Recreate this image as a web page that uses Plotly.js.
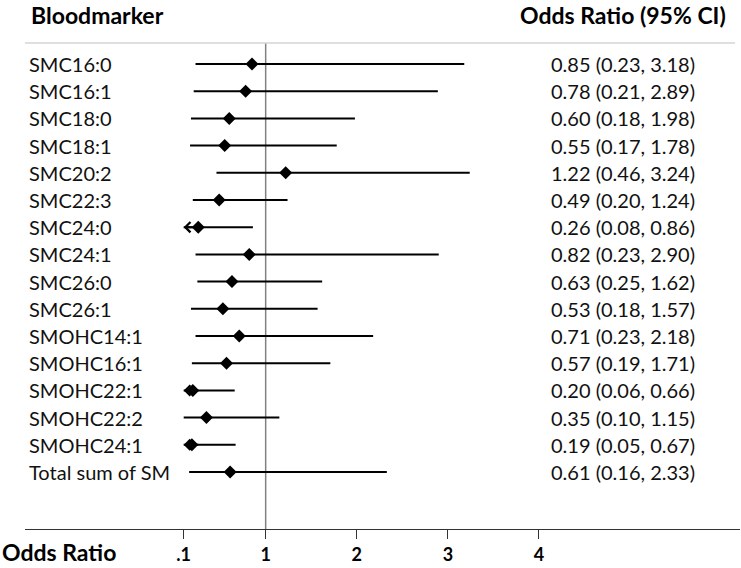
<!DOCTYPE html>
<html>
<head>
<meta charset="utf-8">
<script src="https://cdn.plot.ly/plotly-3.0.1.min.js"></script>
<style>html,body{margin:0;padding:0;background:#fff;}#chart{width:741px;height:568px;}</style>
</head>
<body>
<div id="chart"></div>
<script>
const markers = ["SMC16:0","SMC16:1","SMC18:0","SMC18:1","SMC20:2","SMC22:3","SMC24:0","SMC24:1","SMC26:0","SMC26:1","SMOHC14:1","SMOHC16:1","SMOHC22:1","SMOHC22:2","SMOHC24:1","Total sum of SM"];
const oddsRatio = [0.85,0.78,0.60,0.55,1.22,0.49,0.26,0.82,0.63,0.53,0.71,0.57,0.20,0.35,0.19,0.61];
const ciLow =     [0.23,0.21,0.18,0.17,0.46,0.20,0.08,0.23,0.25,0.18,0.23,0.19,0.06,0.10,0.05,0.16];
const ciHigh =    [3.18,2.89,1.98,1.78,3.24,1.24,0.86,2.90,1.62,1.57,2.18,1.71,0.66,1.15,0.67,2.33];
const tickVals = [0.1,1,2,3,4];
const tickText = [".1","1","2","3","4"];
const axisMin = 0.1;

const FONT = "Lato, 'Open Sans', sans-serif";
const TXT = "#111";

// CI lines (clipped at axis minimum)
const lx = [], ly = [];
markers.forEach((m,i)=>{
  lx.push(Math.max(ciLow[i], axisMin), ciHigh[i], null);
  ly.push(m, m, null);
});

const traces = [
  {type:"scatter", mode:"lines", x:lx, y:ly, line:{color:"#000", width:2}, hoverinfo:"skip", showlegend:false},
  {type:"scatter", mode:"markers", x:oddsRatio, y:markers, marker:{symbol:"diamond", size:10, color:"#000"}, showlegend:false}
];

const annotations = [];
markers.forEach((m,i)=>{
  annotations.push({xref:"paper", x:0.0028, xanchor:"left", yref:"y", y:m, yanchor:"middle",
    text:m, showarrow:false, font:{family:FONT, size:20, color:TXT}});
  annotations.push({xref:"paper", x:0.9399, xanchor:"right", yref:"y", y:m, yanchor:"middle",
    text: oddsRatio[i].toFixed(2)+" ("+ciLow[i].toFixed(2)+", "+ciHigh[i].toFixed(2)+")",
    showarrow:false, font:{family:FONT, size:20, color:TXT}});
  if (ciLow[i] < axisMin) {
    annotations.push({xref:"x", x:axisMin, yref:"y", y:m, text:"", showarrow:true,
      ax:16, ay:0, arrowhead:4, arrowsize:1, arrowwidth:2, arrowcolor:"#000", standoff:0});
  }
});
annotations.push({xref:"paper", x:0.0056, xanchor:"left", yref:"paper", y:1.0576, yanchor:"middle",
  text:"<b>Bloodmarker</b>", showarrow:false, font:{family:FONT, size:23, color:"#000"}});
annotations.push({xref:"paper", x:0.983, xanchor:"right", yref:"paper", y:1.0576, yanchor:"middle",
  text:"<b>Odds Ratio (95% CI)</b>", showarrow:false, font:{family:FONT, size:23, color:"#000"}});
annotations.push({xref:"paper", x:-0.035, xanchor:"left", yref:"paper", y:-0.0473, yanchor:"middle",
  text:"<b>Odds Ratio</b>", showarrow:false, font:{family:FONT, size:23, color:"#000"}});

const layout = {
  width:741, height:568,
  margin:{l:25, r:1, t:43, b:39},
  paper_bgcolor:"#fff", plot_bgcolor:"#fff",
  font:{family:FONT, color:TXT},
  xaxis:{range:[-1.642, 6.207], tickmode:"array", tickvals:tickVals, ticktext:tickText,
    showgrid:false, zeroline:false, showline:true, linecolor:"#333", linewidth:1,
    ticks:"outside", ticklen:9, tickcolor:"#333", tickwidth:1,
    tickfont:{family:FONT, size:18, color:"#000", weight:"bold"}, fixedrange:true},
  yaxis:{type:"category", categoryarray:markers, range:[17.096, -0.772],
    showticklabels:false, showgrid:false, zeroline:false, showline:false, ticks:"", fixedrange:true},
  shapes:[
    {type:"line", xref:"x", x0:1, x1:1, yref:"paper", y0:0, y1:1, line:{color:"#808080", width:1.5}, layer:"below"},
    {type:"line", xref:"paper", x0:0, x1:0.993, yref:"paper", y0:1, y1:1, line:{color:"#d4d4d4", width:1.5}}
  ],
  annotations:annotations,
  showlegend:false
};

Plotly.newPlot("chart", traces, layout, {displayModeBar:false, staticPlot:true});
</script>
</body>
</html>
